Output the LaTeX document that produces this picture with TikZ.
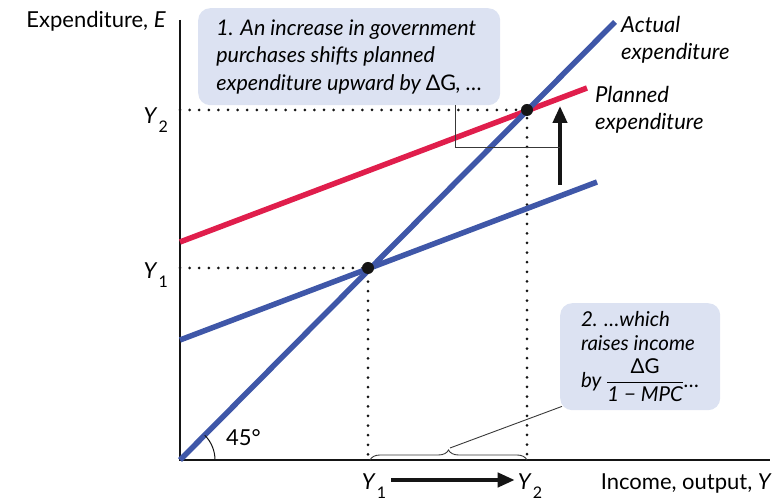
\documentclass[tikz,border=0pt]{standalone}
\usepackage{fontspec}
\setmainfont{Lato}
\usetikzlibrary{arrows.meta,positioning,calc,decorations.pathreplacing}
\definecolor{ink}{HTML}{151515}
\definecolor{aeblue}{HTML}{3F57A8}
\definecolor{aered}{HTML}{E01E4C}
\definecolor{note}{HTML}{DCE2F2}
\newcommand{\Ysub}[1]{\textit{Y}\kern1pt\raisebox{-0.75ex}{\fontsize{16}{16}\selectfont #1}}
\tikzset{
  axis/.style={draw=ink, line width=1.3pt},
  curve/.style={line width=5.5pt},
  guide/.style={draw=ink, line width=3pt, line cap=round, dash pattern=on 0pt off 9.6pt},
  callout/.style={fill=note, rounded corners=12pt, align=left, inner sep=0pt,
                  font=\fontsize{21.5}{27.5}\selectfont\itshape},
  curvelabel/.style={align=left, font=\fontsize{22}{27}\selectfont\itshape, inner sep=0pt, anchor=north west},
  axislabel/.style={font=\fontsize{22}{26}\selectfont, inner sep=0pt},
  shiftarrow/.style={-{Triangle[length=17pt,width=14pt]}, line width=4pt, draw=ink},
  leader/.style={draw=ink!85, line width=0.9pt},
  dot/.style={circle, fill=ink, inner sep=0pt, minimum size=12pt}
}

\begin{document}
\begin{tikzpicture}[x=1pt,y=1pt]
  \useasboundingbox (0,0) rectangle (780,500);
  % axes
  \coordinate (O) at (180,40);
  \coordinate (ytop) at (180,480);
  \coordinate (xend) at (770,40);
  \draw[axis] (ytop) -- (O) -- (xend);
  \node[axislabel,anchor=east] (ylab) at (166,479) {Expenditure, \textit{E}};
  \node[axislabel,anchor=east] (xlab) at (772,16) {Income, output, \textit{Y}};

  % equilibria
  \coordinate (E1) at (368,232);
  \coordinate (E2) at (527,390);
  \draw[guide] (E1 -| O) -- (E1) -- (E1 |- O);
  \draw[guide] (E2 -| O) -- (E2) -- (E2 |- O);

  % 45 degree line and planned expenditure
  \coordinate (actualend) at (615,478);
  \coordinate (pe1start) at (180,160);
  \coordinate (pe1end) at (597,318);
  \coordinate (pe2start) at (180,258);
  \coordinate (pe2end) at (587,412);
  \draw[curve,aered] (pe2start) -- (pe2end);
  \draw[curve,aeblue] (pe1start) -- (pe1end);
  \draw[curve,aeblue] (O) -- (actualend);
  \node[dot] (dot1) at (E1) {};
  \node[dot] (dot2) at (E2) {};

  \draw[ink,line width=1pt] (215,40) arc[start angle=0,end angle=45,radius=35];
  \node[axislabel,anchor=west] (angle) at (226,62) {45°};

  \node[curvelabel] (actlab) at (621,484) {Actual\\expenditure};
  \node[curvelabel] (planlab) at (595,414) {Planned\\expenditure};

  \node[axislabel,anchor=east] (y2lab) at (168,380) {\Ysub{2}};
  \node[axislabel,anchor=east] (y1lab) at (168,225) {\Ysub{1}};
  \node[axislabel] (y1x) at (374,14) {\Ysub{1}};
  \node[axislabel] (y2x) at (530,14) {\Ysub{2}};
  \draw[shiftarrow] (y1x.east) ++(5,6) coordinate (incstart) -- ($(y2x.west |- incstart)+(-3,0)$);

  % upward shift
  \coordinate (shiftlow) at (560,315);
  \coordinate (shifthigh) at (560,394);
  \draw[shiftarrow] (shiftlow) -- (shifthigh);

  \node[callout,anchor=north west,minimum width=302pt,minimum height=97pt] (govbox) at (198,492)
    {1. An increase in government\\purchases shifts planned\\expenditure upward by {\upshape ΔG}, …};
  \coordinate (knee) at (455,353);
  \draw[leader] (govbox.south -| knee) -- (knee) -- (shiftlow |- knee);

  \node[callout,anchor=north west,minimum width=160pt,minimum height=107pt,
        font=\fontsize{20.5}{24}\selectfont\itshape] (incbox) at (560,197)
    {2. …which\\raises income\\[7pt]by $\displaystyle\frac{\mbox{\upshape ΔG}}{\mbox{\itshape 1 − MPC}}$…\hspace{8pt}};

  % brace on the income axis
  \draw[leader,decorate,decoration={brace,amplitude=10pt}] ($(E1 |- O)+(2,0)$) -- ($(E2 |- O)+(0,0)$);
  \coordinate (bracetip) at (450,52);
  \draw[leader] (bracetip) -- ($(incbox.south west)+(2,4)$);
\end{tikzpicture}
\end{document}
